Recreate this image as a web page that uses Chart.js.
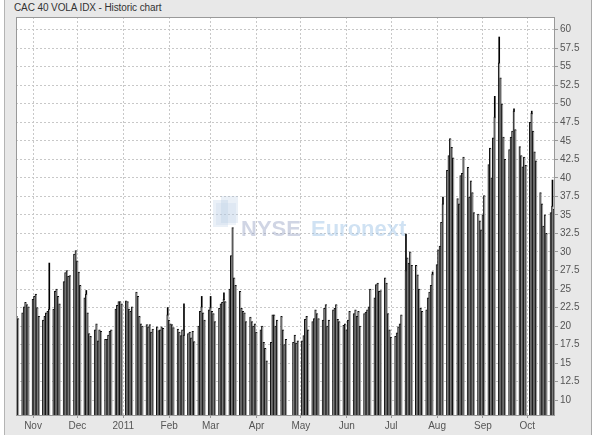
<!DOCTYPE html>
<html>
<head>
<meta charset="utf-8">
<script src="https://cdn.jsdelivr.net/npm/chart.js@4/dist/chart.umd.min.js"></script>
<style>
  body { margin: 0; background: #fff; width: 600px; height: 440px; overflow: hidden; font-family: "Liberation Sans", Arial, sans-serif; }
  #panel { position: absolute; left: 4px; top: 0; width: 586px; height: 435px; background: #e8e8e8; border-left: 1px solid #b4b4b4; border-right: 1px solid #a8a8a8; }
  #title { position: absolute; left: 14px; top: 2px; font-size: 10px; color: #333; letter-spacing: -0.1px; }
  #wrap { position: absolute; left: 0; top: 0; width: 600px; height: 440px; }
</style>
</head>
<body>
<div id="panel"></div>
<div id="title">CAC 40 VOLA IDX - Historic chart</div>
<div id="wrap"><canvas id="chart"></canvas></div>
<script>
// daily closing values, one per trading day of each month
const oct10 = [21.3, 21.0, 21.8, 22.6, 23.2, 22.9, 22.6];
const nov10 = [23.6, 24.0, 24.3, 22.5, 21.3, 20.8, 21.3, 21.8, 22.0, 22.3, 22.3, 24.7, 25.0, 24.0, 23.0,
               26.0, 27.2, 27.5, 26.7, 26.8, 29.7, 30.2];
const dec10 = [28.8, 27.3, 25.5, 23.8, 24.3, 21.8, 19.0, 18.6, 19.5, 20.3, 18.0, 19.5, 19.3,
               18.2, 18.2, 18.8, 19.3, 19.5, 22.3, 22.8, 23.3, 23.3, 23.0];
const jan11 = [23.4, 23.3, 22.3, 22.0, 22.6, 24.6, 24.0, 21.3, 20.3, 20.0, 20.2, 19.9, 20.2, 19.2, 19.6,
               19.9, 19.4, 19.5, 19.9, 19.7, 21.5];
const feb11 = [20.8, 20.3, 20.2, 19.8, 19.6, 19.2, 18.7, 19.5, 18.8, 19.0, 19.2, 18.4, 19.3, 17.9,
               20.0, 22.0, 22.6, 21.8, 20.8, 22.2];
const mar11 = [22.5, 22.0, 21.7, 20.6, 22.4, 23.0, 23.2, 23.6, 23.3, 25.0, 29.5, 33.3, 26.5, 25.5,
               24.7, 22.4, 22.0, 21.8, 20.6, 21.2, 20.6, 20.0, 20.3];
const apr11 = [19.2, 19.5, 20.0, 17.8, 17.0, 15.3, 17.8, 21.5, 21.5, 20.0, 20.8, 21.3, 19.5, 17.5, 18.2,
               17.8, 18.8, 17.7, 18.0];
const may11 = [18.0, 18.7, 20.9, 21.3, 19.5, 20.6, 21.0, 22.2, 21.7, 21.0, 20.8, 22.4, 22.9, 20.0, 20.8,
               22.2, 22.4, 22.9, 20.9, 20.6, 20.1, 20.3];
const jun11 = [19.5, 20.8, 22.0, 21.7, 22.2, 21.3, 22.0, 20.0, 21.7, 21.9, 22.2, 22.6, 25.0,
               23.8, 25.6, 25.8, 24.7, 24.8, 26.5, 25.8, 21.7, 19.5];
const jul11 = [18.5, 18.6, 19.1, 19.9, 20.3, 21.5, 27.5, 29.2, 28.5, 30.0, 28.2, 28.2, 26.9, 25.0, 22.4, 22.0,
               22.2, 23.8, 24.6, 25.5, 27.0];
const aug11 = [28.3, 30.3, 30.8, 34.0, 36.5, 41.0, 43.0, 45.3, 44.1, 42.7, 37.2, 36.5, 40.3, 40.6, 42.8,
               41.4, 37.4, 39.6, 38.0, 35.3, 35.1, 34.2, 33.0];
const sep11 = [35.0, 37.6, 41.8, 44.0, 40.0, 45.4, 48.2, 55.5, 53.5, 50.0, 45.5, 42.5,
               43.8, 45.5, 46.3, 49.0, 46.5, 44.2, 43.0, 41.5, 42.8, 41.7];
const oct11 = [47.5, 48.7, 46.3, 43.5, 42.3, 38.0, 36.5, 33.5, 35.0, 32.5, 35.3, 36.2, 35.8];

// months: [year-month, first day, last day, values]
const monthSpecs = [
  ["2010-10", 21, 31, oct10], ["2010-11", 1, 30, nov10], ["2010-12", 1, 31, dec10],
  ["2011-01", 1, 31, jan11], ["2011-02", 1, 28, feb11], ["2011-03", 1, 31, mar11],
  ["2011-04", 1, 30, apr11], ["2011-05", 1, 31, may11], ["2011-06", 1, 30, jun11],
  ["2011-07", 1, 31, jul11], ["2011-08", 1, 31, aug11], ["2011-09", 1, 30, sep11],
  ["2011-10", 1, 19, oct11]
];
const holidays = ["2011-04-22", "2011-04-25"];

// intraday highs where they stick out above the close
const wicks = [
  ["2010-11-12", 28.5], ["2010-12-07", 24.8], ["2011-01-31", 22.5], ["2011-02-11", 23.0],
  ["2011-02-23", 24.0], ["2011-03-01", 24.0], ["2011-03-10", 24.5], ["2011-07-11", 32.4],
  ["2011-07-29", 27.3], ["2011-08-05", 37.4], ["2011-09-09", 51.0], ["2011-09-12", 59.0],
  ["2011-09-22", 49.3], ["2011-10-04", 49.0], ["2011-10-18", 39.7]
];

const monthTicks = ["2010-11-01", "2010-12-01", "2011-01-01", "2011-02-01", "2011-03-01", "2011-04-01",
                    "2011-05-01", "2011-06-01", "2011-07-01", "2011-08-01", "2011-09-01", "2011-10-01"];
const monthLabels = ["Nov", "Dec", "2011", "Feb", "Mar", "Apr", "May", "Jun", "Jul", "Aug", "Sep", "Oct"];
const yTicks = [10, 12.5, 15, 17.5, 20, 22.5, 25, 27.5, 30, 32.5, 35, 37.5, 40, 42.5, 45, 47.5, 50, 52.5, 55, 57.5, 60];

const ORIGIN = Date.UTC(2010, 10, 1);
function dayNum(s) {
  const [y, m, d] = s.split("-").map(Number);
  return (Date.UTC(y, m - 1, d) - ORIGIN) / 86400000;
}
const pad = n => (n < 10 ? "0" + n : "" + n);

const closes = [];
const closeByDate = {};
monthSpecs.forEach(([ym, from, to, vals]) => {
  let k = 0;
  for (let d = from; d <= to; d++) {
    const ds = ym + "-" + pad(d);
    const [y, m] = ym.split("-").map(Number);
    const wd = new Date(Date.UTC(y, m - 1, d)).getUTCDay();
    if (wd === 0 || wd === 6 || holidays.includes(ds)) continue;
    if (k >= vals.length) break;
    closes.push({ x: dayNum(ds), y: vals[k] });
    closeByDate[ds] = vals[k];
    k++;
  }
  if (k !== vals.length) console.warn("count mismatch", ym, k, vals.length);
});
const wickPoints = wicks.map(([ds, hi]) => ({ x: dayNum(ds), y: [closeByDate[ds] || hi, hi] }));

const FONT = "'Liberation Sans', Arial, sans-serif";

const plotDecor = {
  id: "plotDecor",
  beforeDraw(c) {
    const { ctx, chartArea: a } = c;
    ctx.save();
    ctx.fillStyle = "#fff";
    ctx.fillRect(a.left, a.top, a.width, a.height);
    ctx.restore();
  },
  beforeDatasetsDraw(c) {
    const { ctx } = c;
    ctx.save();
    // watermark logo
    ctx.fillStyle = "rgba(160,185,220,0.22)";
    ctx.fillRect(213, 200, 15, 27);
    ctx.fillRect(221, 196, 17, 27);
    ctx.fillStyle = "rgba(200,215,235,0.3)";
    ctx.fillRect(216, 203, 20, 22);
    ctx.font = "bold 22px " + FONT;
    ctx.textBaseline = "alphabetic";
    ctx.fillStyle = "rgba(150,162,195,0.45)";
    ctx.fillText("NYSE", 241, 236);
    ctx.fillStyle = "rgba(150,190,228,0.45)";
    ctx.fillText("Euronext", 311, 236);
    ctx.restore();
  },
  afterDraw(c) {
    const { ctx, chartArea: a } = c;
    ctx.save();
    ctx.strokeStyle = "#999";
    ctx.lineWidth = 1;
    ctx.strokeRect(Math.round(a.left) + 0.5, Math.round(a.top) + 0.5, Math.round(a.width) - 1, Math.round(a.height));
    ctx.restore();
  }
};

new Chart(document.getElementById("chart"), {
  type: "bar",
  data: {
    datasets: [
      {
        label: "High",
        data: wickPoints,
        backgroundColor: "#000",
        barThickness: 1,
        grouped: false,
        order: 2
      },
      {
        label: "CAC 40 VOLA IDX",
        data: closes,
        backgroundColor: "#9c9c9c",
        borderColor: "#111",
        borderWidth: { left: 1, right: 0, top: 1, bottom: 0 },
        borderSkipped: false,
        barThickness: 2,
        grouped: false,
        order: 1
      }
    ]
  },
  options: {
    responsive: true,
    maintainAspectRatio: false,
    animation: false,
    layout: { padding: { left: 16, top: 17, right: 15, bottom: 5 } },
    plugins: { legend: { display: false }, tooltip: { enabled: false } },
    scales: {
      x: {
        type: "linear",
        offset: false,
        min: -11.5,
        max: 352.7,
        afterBuildTicks: s => { s.ticks = monthTicks.map(d => ({ value: dayNum(d) })); },
        afterFit: s => { s.height = 20; },
        ticks: {
          callback: (v, i) => monthLabels[i],
          autoSkip: false,
          maxRotation: 0,
          padding: 2,
          color: "#555",
          font: { size: 10, family: FONT }
        },
        grid: { offset: false, color: "#c8c8c8", tickColor: "#999", tickLength: 3 },
        border: { display: false, dash: [2, 2] }
      },
      y: {
        position: "right",
        min: 8,
        max: 61.7,
        afterBuildTicks: s => { s.ticks = yTicks.map(v => ({ value: v })); },
        afterFit: s => { s.width = 30; },
        ticks: {
          callback: v => String(v),
          padding: 2,
          color: "#555",
          font: { size: 10, family: FONT }
        },
        grid: { color: "#c8c8c8", tickColor: "#999", tickLength: 3 },
        border: { display: false, dash: [2, 2] }
      }
    }
  },
  plugins: [plotDecor]
});
</script>
</body>
</html>
